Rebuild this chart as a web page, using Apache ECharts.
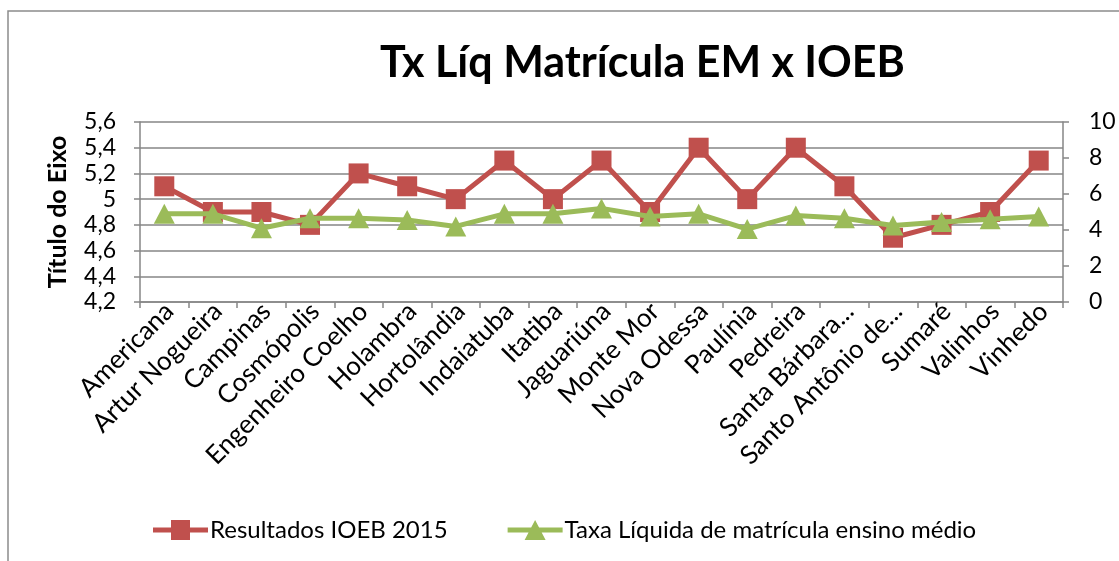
<!DOCTYPE html>
<html>
<head>
<meta charset="utf-8">
<script src="https://cdn.jsdelivr.net/npm/echarts@6/dist/echarts.min.js"></script>
<style>html,body{margin:0;padding:0;background:#fff}#c{width:1119px;height:561px}</style>
</head>
<body>
<div id="c"></div>
<script>
const categories = ["Americana","Artur Nogueira","Campinas","Cosmópolis","Engenheiro Coelho","Holambra","Hortolândia","Indaiatuba","Itatiba","Jaguariúna","Monte Mor","Nova Odessa","Paulínia","Pedreira","Santa Bárbara...","Santo Antônio de...","Sumaré","Valinhos","Vinhedo"];
const ioeb2015 = [5.1,4.9,4.9,4.8,5.2,5.1,5.0,5.3,5.0,5.3,4.9,5.4,5.0,5.4,5.1,4.7,4.8,4.9,5.3];
const taxaLiquida = [4.9,4.9,4.1,4.65,4.65,4.55,4.2,4.9,4.9,5.2,4.75,4.9,4.05,4.8,4.65,4.25,4.45,4.6,4.75];
const seriesNames = ["Resultados IOEB 2015","Taxa Líquida de matrícula ensino médio"];
const titleText = "Tx Líq Matrícula EM x IOEB";
const leftAxisName = "Título do Eixo";

const FONT = "Lato, 'Open Sans', sans-serif";
const GRAY = "#868686";
const RED = "#C0504D", GREEN = "#9BBB59";
const ICON_RECT = "path://M0,7.5H18V0H37V7.5H55V12.5H37V20H18V12.5H0Z";
const ICON_TRI = "path://M0,7.5H23.56L27.5,0L31.44,7.5H55V12.5H34.06L38,20H17L20.94,12.5H0Z";
const chart = echarts.init(document.getElementById('c'), null, {renderer:'canvas'});
chart.setOption({
  animation:false,
  backgroundColor:'#fff',
  graphic:[{type:'rect',shape:{x:8,y:11,width:1200,height:700},style:{fill:'none',stroke:'#8c8c8c',lineWidth:1.5},silent:true}],
  title:{text:titleText,left:375,top:37,itemGap:0,textStyle:{fontFamily:FONT,fontWeight:'bold',fontSize:43,color:'#000'}},
  legend:{left:148,top:513,itemWidth:55,itemHeight:20,itemGap:60,
    textStyle:{fontFamily:FONT,fontSize:24,color:'#000',padding:[0,0,0,-3]},
    data:[{name:seriesNames[0],icon:ICON_RECT,itemStyle:{color:RED}},{name:seriesNames[1],icon:ICON_TRI,itemStyle:{color:GREEN}}]},
  grid:{left:140,right:56,top:122,bottom:259,containLabel:false},
  xAxis:{type:'category',data:categories,boundaryGap:true,
    axisLine:{lineStyle:{color:GRAY,width:1.5}},
    axisTick:{show:true,length:6,lineStyle:{color:GRAY,width:1.5}},
    axisLabel:{rotate:45,interval:0,fontFamily:FONT,fontSize:26,color:'#000',margin:10,padding:[0,-7,0,0]}},
  yAxis:[
    {type:'value',min:4.2,max:5.6,interval:0.2,position:'left',
     name:leftAxisName,nameLocation:'middle',nameRotate:90,nameGap:70,
     nameTextStyle:{fontFamily:FONT,fontWeight:'bold',fontSize:25,color:'#000'},
     axisLine:{show:true,lineStyle:{color:GRAY,width:1.5}},
     axisTick:{show:true,length:6,lineStyle:{color:GRAY,width:1.5}},
     splitLine:{show:true,lineStyle:{color:GRAY,width:1.5}},
     axisLabel:{fontFamily:FONT,fontSize:23,color:'#000',margin:24,
       formatter:v=>(Math.round(v*10)/10).toString().replace('.',',')}},
    {type:'value',min:0,max:10,interval:2,position:'right',
     axisLine:{show:true,lineStyle:{color:GRAY,width:1.5}},
     axisTick:{show:true,length:6,lineStyle:{color:GRAY,width:1.5}},
     splitLine:{show:false},
     axisLabel:{fontFamily:FONT,fontSize:23,color:'#000',margin:26}}
  ],
  series:[
    {name:seriesNames[0],type:'line',yAxisIndex:0,data:ioeb2015,symbol:'rect',symbolSize:20,
     itemStyle:{color:RED},lineStyle:{color:RED,width:5},z:2},
    {name:seriesNames[1],type:'line',yAxisIndex:1,data:taxaLiquida,symbol:'triangle',symbolSize:[21,20],
     itemStyle:{color:GREEN},lineStyle:{color:GREEN,width:5},z:3}
  ]
});
</script>
</body>
</html>
